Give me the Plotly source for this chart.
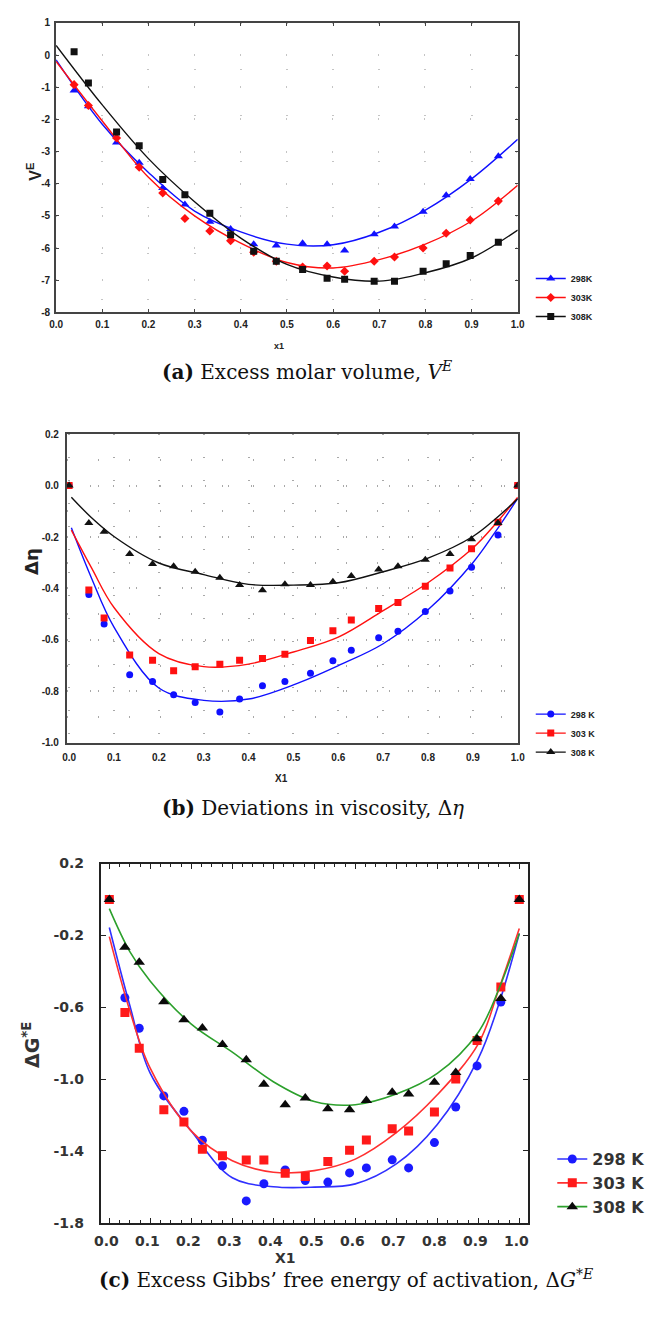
import plotly.graph_objects as go

W, H = 656, 1317

# ---------------- data ----------------
# (a) Excess molar volume, V^E
a_x = [0.039, 0.070, 0.131, 0.180, 0.231, 0.279, 0.333, 0.378, 0.428, 0.477,
       0.534, 0.587, 0.625, 0.689, 0.733, 0.795, 0.845, 0.897, 0.958]
a_298 = [-1.10, -1.59, -2.72, -3.35, -4.13, -4.65, -5.18, -5.41, -5.88, -5.92,
         -5.85, -5.88, -6.08, -5.57, -5.33, -4.87, -4.36, -3.85, -3.15]
a_303 = [-0.92, -1.57, -2.58, -3.49, -4.29, -5.08, -5.47, -5.77, -6.13, -6.41,
         -6.59, -6.56, -6.72, -6.41, -6.28, -6.00, -5.54, -5.13, -4.54]
a_308 = [0.10, -0.87, -2.39, -2.82, -3.87, -4.34, -4.92, -5.59, -6.10, -6.41,
         -6.67, -6.94, -6.97, -7.03, -7.03, -6.72, -6.49, -6.23, -5.82]
a_fit_x = [0.0, 0.1, 0.2, 0.3, 0.4, 0.5, 0.6, 0.7, 0.8, 0.9, 1.0]
a_fit_298 = [-0.15, -2.15, -3.65, -4.85, -5.50, -5.88, -5.90, -5.51, -4.82, -3.85, -2.62]
a_fit_303 = [-0.20, -2.05, -3.80, -5.00, -5.85, -6.45, -6.62, -6.36, -5.88, -5.16, -4.05]
a_fit_308 = [0.30, -1.55, -3.22, -4.56, -5.69, -6.51, -6.90, -7.03, -6.77, -6.31, -5.44]
a_ytick_vals = [1, 0, -1, -2, -3, -4, -5, -6, -7, -8]
a_ytick_text = ["1", "0", "-1", "-2", "-3", "-4", "-5", "-6", "-7", "-8"]

# (b) Deviations in viscosity, Δη
b_x = [0.0, 0.044, 0.078, 0.135, 0.186, 0.233, 0.281, 0.336, 0.380, 0.431, 0.481,
       0.538, 0.588, 0.629, 0.690, 0.733, 0.794, 0.849, 0.897, 0.956, 1.0]
b_298 = [0.0, -0.423, -0.538, -0.736, -0.762, -0.813, -0.843, -0.880, -0.830, -0.778, -0.762,
         -0.730, -0.681, -0.640, -0.592, -0.566, -0.490, -0.410, -0.318, -0.192, 0.0]
b_303 = [0.0, -0.406, -0.515, -0.659, -0.679, -0.720, -0.704, -0.695, -0.679, -0.672, -0.656,
         -0.602, -0.564, -0.523, -0.478, -0.455, -0.391, -0.320, -0.246, -0.143, 0.0]
b_308 = [0.0, -0.145, -0.179, -0.266, -0.305, -0.314, -0.335, -0.358, -0.387, -0.407, -0.384,
         -0.387, -0.374, -0.352, -0.326, -0.314, -0.288, -0.266, -0.209, -0.145, 0.0]
b_fit_x = [0.005, 0.05, 0.1, 0.2, 0.3, 0.4, 0.5, 0.6, 0.7, 0.8, 0.9, 0.95, 1.0]
b_fit_298 = [-0.164, -0.36, -0.55, -0.787, -0.835, -0.830, -0.775, -0.700, -0.615, -0.483, -0.300, -0.180, -0.050]
b_fit_303 = [-0.173, -0.32, -0.474, -0.653, -0.704, -0.694, -0.647, -0.589, -0.486, -0.378, -0.243, -0.150, -0.045]
b_fit_308 = [-0.045, -0.125, -0.198, -0.301, -0.346, -0.384, -0.387, -0.378, -0.335, -0.282, -0.198, -0.130, -0.051]
b_ytick_vals = [0.2, 0.0, -0.2, -0.4, -0.6, -0.8, -1.0]
b_ytick_text = ["0.2", "0.0", "-0.2", "-0.4", "-0.6", "-0.8", "-1.0"]

# (c) Excess Gibbs' free energy of activation, ΔG*E
c_x = [0.0, 0.038, 0.073, 0.133, 0.182, 0.227, 0.276, 0.334, 0.377, 0.429, 0.478,
       0.533, 0.586, 0.627, 0.690, 0.730, 0.793, 0.845, 0.897, 0.955, 1.0]
c_298 = [0.0, -0.547, -0.717, -1.094, -1.180, -1.341, -1.483, -1.679, -1.583, -1.506, -1.565,
         -1.574, -1.523, -1.495, -1.450, -1.495, -1.354, -1.156, -0.927, -0.571, 0.0]
c_303 = [0.0, -0.629, -0.828, -1.171, -1.240, -1.391, -1.428, -1.451, -1.451, -1.525, -1.543,
         -1.459, -1.396, -1.339, -1.277, -1.290, -1.183, -1.000, -0.785, -0.488, 0.0]
c_308 = [0.0, -0.266, -0.350, -0.569, -0.670, -0.716, -0.807, -0.892, -1.029, -1.143, -1.106,
         -1.165, -1.171, -1.119, -1.073, -1.084, -1.018, -0.963, -0.776, -0.552, 0.0]
c_fit_x = [0.0, 0.05, 0.1, 0.2, 0.3, 0.4, 0.5, 0.6, 0.7, 0.8, 0.9, 0.95, 1.0]
c_fit_298 = [-0.156, -0.59, -0.969, -1.29, -1.55, -1.600, -1.602, -1.584, -1.473, -1.253, -0.886, -0.583, -0.189]
c_fit_303 = [-0.207, -0.62, -0.941, -1.29, -1.455, -1.519, -1.510, -1.446, -1.299, -1.088, -0.804, -0.500, -0.161]
c_fit_308 = [-0.051, -0.29, -0.455, -0.694, -0.850, -1.015, -1.125, -1.143, -1.084, -0.969, -0.739, -0.500, -0.189]
c_ytick_vals = [0.2, -0.2, -0.6, -1.0, -1.4, -1.8]
c_ytick_text = ["0.2", "-0.2", "-0.6", "-1.0", "-1.4", "-1.8"]

labels_a = ["298K", "303K", "308K"]
labels_bc = ["298 K", "303 K", "308 K"]

captions = [
    "<b>(a)</b> Excess molar volume, <i>V</i><sup><i>E</i></sup>",
    "<b>(b)</b> Deviations in viscosity, Δ<i>η</i>",
    "<b>(c)</b> Excess Gibbs’ free energy of activation, Δ<i>G</i><sup>*<i>E</i></sup>",
]

# ---------------- helpers (pixel -> paper); page body has an 8px margin ----------------
OFF = 8


def px(x):
    return (x - OFF) / W


def py(y):
    return 1 - (y - OFF) / H


BLUE, RED, BLACK, GREEN = "#1010ff", "#ff1010", "#111111", "#2ca02c"

fig = go.Figure()


def add_series(xs, ys, fx, fy, name, color, line_color, symbol, size, xa, ya, leg, lw=1.4):
    fig.add_trace(go.Scatter(x=fx, y=fy, mode="lines",
                             line=dict(color=line_color, width=lw, shape="spline", smoothing=1.0),
                             xaxis=xa, yaxis=ya, showlegend=False, hoverinfo="skip"))
    fig.add_trace(go.Scatter(x=xs, y=ys, mode="markers", name=name,
                             marker=dict(color=color, symbol=symbol, size=size, line=dict(width=0)),
                             xaxis=xa, yaxis=ya, legend=leg, showlegend=False))
    fig.add_trace(go.Scatter(x=[None], y=[None], mode="lines+markers", name=name,
                             line=dict(color=line_color, width=lw),
                             marker=dict(color=color, symbol=symbol, size=size),
                             xaxis=xa, yaxis=ya, legend=leg, showlegend=True))


# panel a
add_series(a_x, a_298, a_fit_x, a_fit_298, labels_a[0], BLUE, BLUE, "triangle-up", 8, "x", "y", "legend")
add_series(a_x, a_303, a_fit_x, a_fit_303, labels_a[1], RED, RED, "diamond", 7, "x", "y", "legend")
add_series(a_x, a_308, a_fit_x, a_fit_308, labels_a[2], BLACK, BLACK, "square", 7, "x", "y", "legend")
# panel b
add_series(b_x, b_298, b_fit_x, b_fit_298, labels_bc[0], BLUE, BLUE, "circle", 7, "x2", "y2", "legend2")
add_series(b_x, b_303, b_fit_x, b_fit_303, labels_bc[1], RED, RED, "square", 7, "x2", "y2", "legend2")
add_series(b_x, b_308, b_fit_x, b_fit_308, labels_bc[2], BLACK, BLACK, "triangle-up", 8, "x2", "y2", "legend2")
# panel c
add_series(c_x, c_298, c_fit_x, c_fit_298, labels_bc[0], "#1a1aff", "#3030ff", "circle", 9, "x3", "y3", "legend3", 1.6)
add_series(c_x, c_303, c_fit_x, c_fit_303, labels_bc[1], "#ff1a1a", "#ff3030", "square", 9, "x3", "y3", "legend3", 1.6)
add_series(c_x, c_308, c_fit_x, c_fit_308, labels_bc[2], "#0a0a0a", GREEN, "triangle-up", 10, "x3", "y3", "legend3", 1.6)

small_tick = dict(family="Liberation Sans, Arial", size=10, color="#222", weight="bold")
frame = dict(showline=True, linecolor="#444", linewidth=2, mirror="ticks", zeroline=False)

layout = dict(
    width=W, height=H, autosize=False,
    margin=dict(l=0, r=0, t=0, b=0),
    paper_bgcolor="white", plot_bgcolor="white",
    xaxis=dict(domain=[px(50), px(521.7)], range=[0, 1], anchor="y", dtick=0.1, tickformat=".1f",
               ticks="inside", ticklen=3, tickcolor="#444", tickfont=small_tick, ticklabelstandoff=2,
               showgrid=True, gridcolor="#c4c4c4", griddash="1px,45px", gridwidth=1.5, **frame),
    yaxis=dict(domain=[py(308), py(15)], range=[-8, 1], anchor="x",
               tickvals=a_ytick_vals, ticktext=a_ytick_text,
               ticks="inside", ticklen=3, tickcolor="#444", tickfont=small_tick, ticklabelstandoff=2,
               showgrid=True, gridcolor="#c4c4c4", griddash="1px,45px", gridwidth=1.5, **frame),
    xaxis2=dict(domain=[px(61), px(521.7)], range=[-0.005, 1.0], anchor="y2", dtick=0.1, tickformat=".1f",
                ticks="", tickfont=small_tick, ticklabelstandoff=4,
                showgrid=True, gridcolor="#a8a8a8", griddash="1px,22px", gridwidth=1.5, **frame),
    yaxis2=dict(domain=[py(743.7), py(431.3)], range=[-1.0, 0.2], anchor="x2",
                tickvals=b_ytick_vals, ticktext=b_ytick_text,
                ticks="", tickfont=small_tick, ticklabelstandoff=4,
                showgrid=True, gridcolor="#a8a8a8", griddash="1px,22px", gridwidth=1.5,
                minor=dict(dtick=0.1, showgrid=True, gridcolor="#a8a8a8", griddash="1px,30px", gridwidth=1.5),
                **frame),
    xaxis3=dict(domain=[px(95.7), px(532.3)], range=[-0.0207, 1.0215], anchor="y3", dtick=0.1, tickformat=".1f",
                ticks="inside", ticklen=5, tickcolor="#222",
                minor=dict(dtick=0.025, ticks="inside", ticklen=3, tickcolor="#222"),
                tickfont=dict(family="DejaVu Sans", size=14, color="#333", weight="bold"),
                ticklabelstandoff=5, ticklabelshift=-3,
                showgrid=False, showline=True, linecolor="#222", linewidth=2, mirror="ticks", zeroline=False),
    yaxis3=dict(domain=[py(1229.5), py(866)], range=[-1.8, 0.2], anchor="x3",
                tickvals=c_ytick_vals, ticktext=c_ytick_text,
                ticks="inside", ticklen=5, tickcolor="#222",
                tickfont=dict(family="DejaVu Sans", size=14, color="#333", weight="bold"),
                ticklabelstandoff=12,
                showgrid=False, showline=True, linecolor="#222", linewidth=2, mirror="ticks", zeroline=False),
    legend=dict(x=px(535), y=py(259), xanchor="left", yanchor="top", bgcolor="rgba(0,0,0,0)",
                font=dict(family="Liberation Sans, Arial", size=9, color="#222", weight="bold"),
                tracegroupgap=0, itemwidth=30),
    legend2=dict(x=px(535), y=py(700), xanchor="left", yanchor="top", bgcolor="rgba(0,0,0,0)",
                 font=dict(family="Liberation Sans, Arial", size=9, color="#222", weight="bold"),
                 tracegroupgap=0, itemwidth=30),
    legend3=dict(x=px(557), y=py(1148), xanchor="left", yanchor="top", bgcolor="rgba(0,0,0,0)",
                 font=dict(family="DejaVu Sans", size=16, color="#333", weight="bold"),
                 tracegroupgap=0, itemwidth=30),
)
fig.update_layout(**layout)

ann = []
ann.append(dict(text="<b>V<sup>E</sup></b>", x=px(28), y=py(165), textangle=-90,
                font=dict(family="Liberation Sans, Arial", size=16, color="#222")))
ann.append(dict(text="<b>x1</b>", x=px(278), y=py(342),
                font=dict(family="Liberation Sans, Arial", size=9, color="#222")))
ann.append(dict(text="<b>Δη</b>", x=px(25), y=py(560), textangle=-90,
                font=dict(family="DejaVu Sans", size=18, color="#222")))
ann.append(dict(text="<b>X1</b>", x=px(280), y=py(780),
                font=dict(family="Liberation Sans, Arial", size=10, color="#222")))
ann.append(dict(text="<b>ΔG<sup>*E</sup></b>", x=px(25), y=py(1050), textangle=-90,
                font=dict(family="DejaVu Sans", size=19, color="#333")))
ann.append(dict(text="<b>X1</b>", x=px(284), y=py(1265),
                font=dict(family="DejaVu Sans", size=14, color="#333")))
for cap, cx, cy in zip(captions, [306, 313, 346], [367, 810, 1287]):
    ann.append(dict(text=cap, x=px(cx), y=py(cy),
                    font=dict(family="DejaVu Serif", size=20, color="#111")))
for a in ann:
    a.update(xref="paper", yref="paper", showarrow=False, xanchor="center", yanchor="middle")
fig.update_layout(annotations=ann)

fig.write_html("out.html")
